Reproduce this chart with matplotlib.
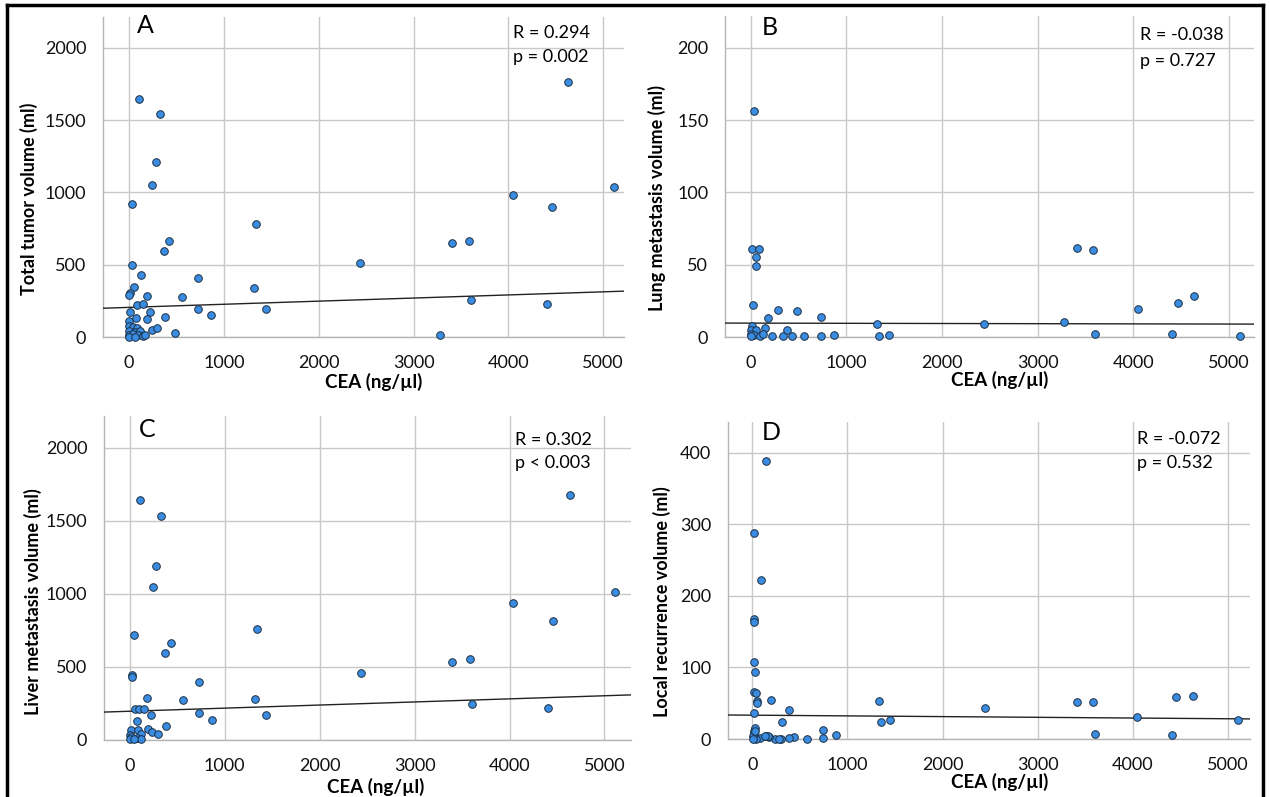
import numpy as np
import matplotlib
matplotlib.use("Agg")
import matplotlib.pyplot as plt
from matplotlib.lines import Line2D

plt.rcParams['font.family'] = ['Lato', 'DejaVu Sans']

# ── Données ──────────────────────────────────────────────────────────────
# A : volume tumoral total
cea_a = [100, 330, 280, 240, 35, 1340, 422, 370, 26, 2440, 3404, 3584, 4045,
         4458, 4634, 5112, 3602, 4406, 3275, 125, 731, 1321, 1442, 731, 869,
         555, 47, 9, 4, 185, 86, 142, 9, 224, 379, 77, 189, 4, 237, 293, 482,
         4, 39, 82, 4, 60, 116, 4, 39, 95, 146, 168, 4, 60]
vol_a = [1650, 1540, 1210, 1050, 920, 785, 665, 596, 495, 509, 649, 667, 984,
         899, 1766, 1039, 255, 225, 11, 429, 411, 342, 197, 197, 154,
         275, 344, 303, 291, 287, 222, 227, 174, 172, 140, 131, 124, 108, 50,
         62, 30, 78, 67, 62, 39, 37, 44, 16, 21, 16, 5, 16, 0, 0]

# B : métastases pulmonaires
cea_b = [38, 9, 81, 51, 51, 21, 282, 483, 731, 175, 1320, 2440, 3278, 3406,
         3581, 4043, 4462, 4637, 3598, 4406, 5111, 1440, 1342, 872, 731, 560,
         432, 333, 226, 376, 145, 17, 4, 51, 4, 38, 94, 128, 4]
vol_b = [156.5, 61, 61, 55.3, 48.8, 21.9, 18.9, 17.7, 14.1, 12.9, 8.8, 9.2,
         10.6, 61.5, 59.9, 19.6, 23.3, 28.1, 1.8, 2.3, 0.5, 1.6, 0.5, 1.4, 0.7,
         0.5, 0.5, 0.5, 0.7, 4.6, 6.2, 7.4, 4.6, 4.6, 2.3, 1.2, 0.7, 2.3, 0.5]

# C : métastases hépatiques
cea_c = [107, 331, 279, 241, 39, 1340, 430, 369, 26, 26, 2431, 3398, 3582,
         4042, 4459, 4639, 5107, 3600, 4403, 730, 1323, 1439, 730, 868, 558,
         185, 52, 99, 146, 223, 378, 77, 193, 236, 296, 9, 82, 120, 0, 17, 73,
         116, 0, 43]
vol_c = [1646, 1537, 1189, 1048, 721, 763, 662, 594, 443, 432, 457, 537, 557,
         936, 817, 1678, 1011, 247, 217, 397, 281, 171, 185, 137, 274,
         288, 215, 215, 215, 171, 98, 132, 75, 53, 41, 68, 68, 41, 34, 23, 11,
         7, 7, 5]

# D : récidive locale
cea_d = [142, 21, 94, 21, 21, 21, 26, 17, 43, 47, 47, 202, 17, 391, 309,
         1335, 1352, 1451, 2446, 3408, 3584, 4043, 4455, 4635, 5107, 3605,
         4408, 742, 742, 884, 571, 438, 386, 300, 236, 172, 142, 86, 43, 17,
         17, 30, 9, 9, 27, 161, 132, 280]
vol_d = [389, 288, 222, 168, 164, 108, 94, 65, 64, 53, 51, 54, 36, 40, 24,
         53, 24, 26, 44, 52, 52, 31, 58, 60, 26, 7,
         6, 12, 1.4, 6, 0.5, 2.3, 1.4, 0, 0, 2.3, 3.7, 1.4, 0, 8.4,
         11.6, 15, 3.7, 0, 10.6, 3.6, 3.6, 0]

# droites de régression lues (ordonnée à l'origine, pente)
fit_a = (205, 0.0215)
fit_b = (9.6, -0.00013)
fit_c = (197, 0.0212)
fit_d = (33.3, -0.001)

stats_a = ["R = 0.294", "p = 0.002"]
stats_b = ["R = -0.038", "p = 0.727"]
stats_c = ["R = 0.302", "p < 0.003"]
stats_d = ["R = -0.072", "p = 0.532"]

ylabels = ["Total tumor volume (ml)", "Lung metastasis volume (ml)",
           "Liver metastasis volume (ml)", "Local recurrence volume (ml)"]
letters = ["A", "B", "C", "D"]

yticks_a = [0, 500, 1000, 1500, 2000]
yticks_b = [0, 50, 100, 150, 200]
yticks_c = [0, 500, 1000, 1500, 2000]
yticks_d = [0, 100, 200, 300, 400]
xticks = [0, 1000, 2000, 3000, 4000, 5000]

W, H = 1270, 797
fig = plt.figure(figsize=(W / 100, H / 100), dpi=100)


def px_axes(l, r, t, b):
    return fig.add_axes([l / W, (H - b) / H, (r - l) / W, (b - t) / H])


panels = [
    # axes en pixels, xlim, ylim, pos. lettre, pos. stats, pos. ylabel, pos. xlabel
    dict(box=(103, 624, 17, 337), xlim=(-275, 5220), ylim=(0, 2214),
         x=cea_a, y=vol_a, fit=fit_a, stats=stats_a, yt=yticks_a,
         let=(0.081, 0.972), st=(0.787, 0.95, 0.875), yl=(-0.142, 0.431),
         xl=(0.52, -0.14)),
    dict(box=(725, 1254, 16, 337), xlim=(-270, 5260), ylim=(0, 222),
         x=cea_b, y=vol_b, fit=fit_b, stats=stats_b, yt=yticks_b,
         let=(0.085, 0.964), st=(0.785, 0.941, 0.86), yl=(-0.129, 0.433),
         xl=(0.52, -0.134)),
    dict(box=(104, 631, 416, 740), xlim=(-272, 5280), ylim=(0, 2219),
         x=cea_c, y=vol_c, fit=fit_c, stats=stats_c, yt=yticks_c,
         let=(0.082, 0.957), st=(0.78, 0.926, 0.855), yl=(-0.135, 0.426),
         xl=(0.516, -0.145)),
    dict(box=(728, 1250, 422, 739), xlim=(-255, 5230), ylim=(0, 443),
         x=cea_d, y=vol_d, fit=fit_d, stats=stats_d, yt=yticks_d,
         let=(0.082, 0.968), st=(0.784, 0.946, 0.871), yl=(-0.126, 0.432),
         xl=(0.521, -0.136)),
]

for i, p in enumerate(panels):
    ax = px_axes(*p['box'])
    ax.set_xlim(*p['xlim'])
    ax.set_ylim(*p['ylim'])
    ax.set_xticks(xticks)
    ax.set_yticks(p['yt'])
    ax.grid(True, color='#c8c8c8', linewidth=1.0)
    ax.set_axisbelow(True)
    for s in ['top', 'right']:
        ax.spines[s].set_visible(False)
    for s in ['left', 'bottom']:
        ax.spines[s].set_color('#b4b4b4')
        ax.spines[s].set_linewidth(1.0)
    ax.tick_params(length=0, labelsize=13, colors='#111111')
    ax.tick_params(axis='x', pad=13)
    ax.tick_params(axis='y', pad=12)

    # droite de régression
    xs = np.array(p['xlim'])
    b0, b1 = p['fit']
    ax.plot(xs, b0 + b1 * xs, color='#222222', linewidth=1.0, zorder=3)

    ax.scatter(p['x'], p['y'], s=30, facecolor='#3a8ce0', edgecolor='#1c2f45',
               linewidth=0.7, zorder=4, clip_on=False)

    ax.text(*p['let'], letters[i], transform=ax.transAxes, fontsize=18,
            ha='center', va='center')
    sx, sy1, sy2 = p['st']
    ax.text(sx, sy1, p['stats'][0], transform=ax.transAxes, fontsize=13,
            ha='left', va='center')
    ax.text(sx, sy2, p['stats'][1], transform=ax.transAxes, fontsize=13,
            ha='left', va='center')

    ax.set_ylabel(ylabels[i], fontsize=13, fontweight='bold')
    ax.yaxis.set_label_coords(*p['yl'])
    ax.yaxis.label.set_va('center')
    ax.set_xlabel("CEA (ng/µl)", fontsize=13.5, fontweight='bold')
    ax.xaxis.set_label_coords(*p['xl'])
    ax.xaxis.label.set_va('center')

# cadre noir autour de la figure
for xs_, ys_ in [((7, 7), (5, H)), ((7, 1263), (5, 5)), ((1263, 1263), (5, H))]:
    fig.add_artist(Line2D([x / W for x in xs_], [(H - y) / H for y in ys_],
                          color='black', linewidth=2.5))

fig.savefig("out.png", dpi=100)
